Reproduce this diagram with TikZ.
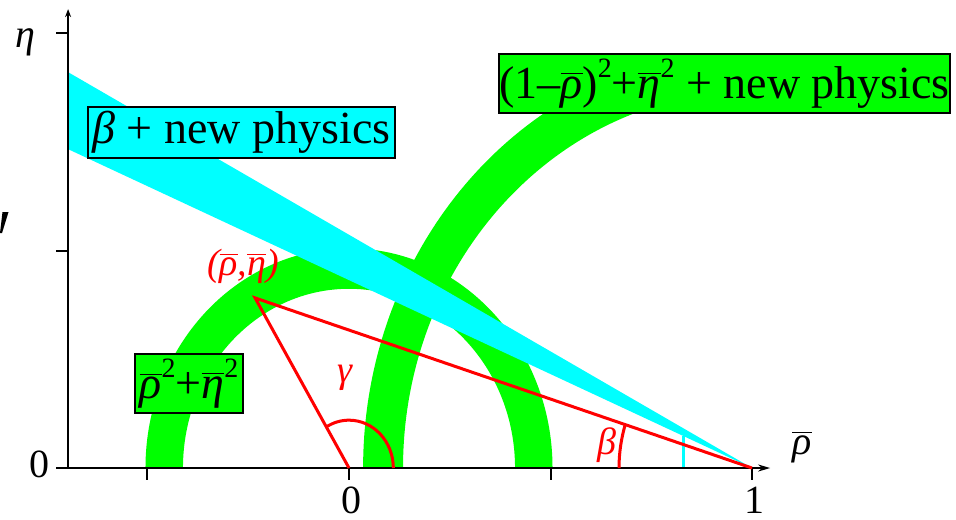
\documentclass[tikz,border=0pt]{standalone}
\usepackage{fontspec}
\setmainfont{Liberation Serif}
\usetikzlibrary{arrows.meta}
\newcommand\rhobar{$\overline{\hbox{\itshape ρ}}$}
\newcommand\etabar{$\overline{\hbox{\itshape η}}$}
\newcommand\sqr{\raisebox{0.45em}{\fontsize{14}{14}\selectfont 2}}
\definecolor{bandgreen}{RGB}{0,255,0}
\definecolor{bandcyan}{RGB}{0,255,255}
\begin{document}
\begin{tikzpicture}[x=201.5pt,y=217.5pt,
  axis/.style={draw=black, line width=1pt},
  tickmark/.style={draw=black, line width=1pt},
  tri/.style={draw=red, line width=1.5pt, line join=miter},
  labelbox/.style={draw=black, line width=1pt, inner sep=0pt, font=\fontsize{23}{27}\selectfont},
  axlabel/.style={inner sep=0pt, font=\fontsize{20}{24}\selectfont},
  redlabel/.style={inner sep=0pt, text=red, font=\fontsize{19}{22}\selectfont\itshape}]
\useasboundingbox (-0.8660,-0.1172) rectangle (1.5062,1.0759);

\coordinate (O) at (0,0);
\coordinate (A) at (1,0);
\coordinate (P) at (-0.233,0.391);
\coordinate (xl) at (-0.727,0);
\coordinate (xr) at (1.045,0);
\coordinate (yb) at (-0.697,0);
\coordinate (yt) at (-0.697,1.055);

% green bands
\fill[bandgreen] (0.035,0) arc[start angle=180,end angle=102,radius=0.965]
  -- (0.8200,0.8471) arc[start angle=102,end angle=180,radius=0.866] -- cycle;
\fill[bandgreen] (0.505,0) arc[start angle=0,end angle=180,radius=0.505]
  -- (-0.412,0) arc[start angle=180,end angle=0,radius=0.412] -- cycle;

% cyan band
\fill[bandcyan] (-0.697,0.910) -- (A) -- (-0.697,0.733) -- cycle;
\draw[bandcyan, line width=1.5pt] (0.831,0) -- (0.831,0.073);

% stray mark at left edge
\fill[black] (-0.8598,0.5885) -- (-0.8449,0.5885) -- (-0.8610,0.540) -- (-0.866,0.540) -- cycle;

% axes
\draw[axis, -{Stealth[length=6pt,width=3.5pt]}] (xl) -- (xr);
\draw[axis, -{Stealth[length=4pt,width=3pt]}] (yb) -- (yt);
\foreach \t in {-0.5,0,0.5,1} \draw[tickmark] (\t,0) -- (\t,-0.028);
\foreach \t in {0.5,1} \draw[tickmark] (-0.727,\t) -- (-0.697,\t);

% triangle
\draw[tri] (O) -- (P) -- (A);
\draw[tri] (0.11,0) arc[start angle=0,end angle=120.8,radius=0.11];
\draw[tri] (0.67,0) arc[start angle=180,end angle=162.4,radius=0.33];

% labels
\node[axlabel] (etalab) at (-0.804,0.979) {\itshape η};
\node[axlabel] (zeroy) at (-0.769,0.009) {0};
\node[axlabel, anchor=base, text depth=0pt] (zerox) at (0.005,-0.104) {0};
\node[axlabel, anchor=base, text depth=0pt] (onex) at (1.007,-0.104) {1};
\node[axlabel] (rholab) at (1.124,0.048) {\rhobar};
\node[redlabel] (apexlab) at (-0.263,0.464) {(\rhobar,\etabar)};
\node[redlabel] (gammalab) at (-0.010,0.207) {γ};
\node[redlabel] (betalab) at (0.640,0.053) {β};

% boxes
\node[labelbox, fill=bandcyan, minimum width=153.5pt, minimum height=25.5pt] (boxbeta) at (-0.2668,0.7713) {{\itshape β} + new physics};
\node[labelbox, fill=bandgreen, minimum width=224pt, minimum height=29.5pt] (boxright) at (0.9318,0.8839) {(1–\rhobar)\sqr+\etabar\sqr{} + new physics};
\node[labelbox, fill=bandgreen, minimum width=54pt, minimum height=29.5pt] (boxleft) at (-0.397,0.194) {\rhobar\sqr+\etabar\sqr};
\end{tikzpicture}
\end{document}
